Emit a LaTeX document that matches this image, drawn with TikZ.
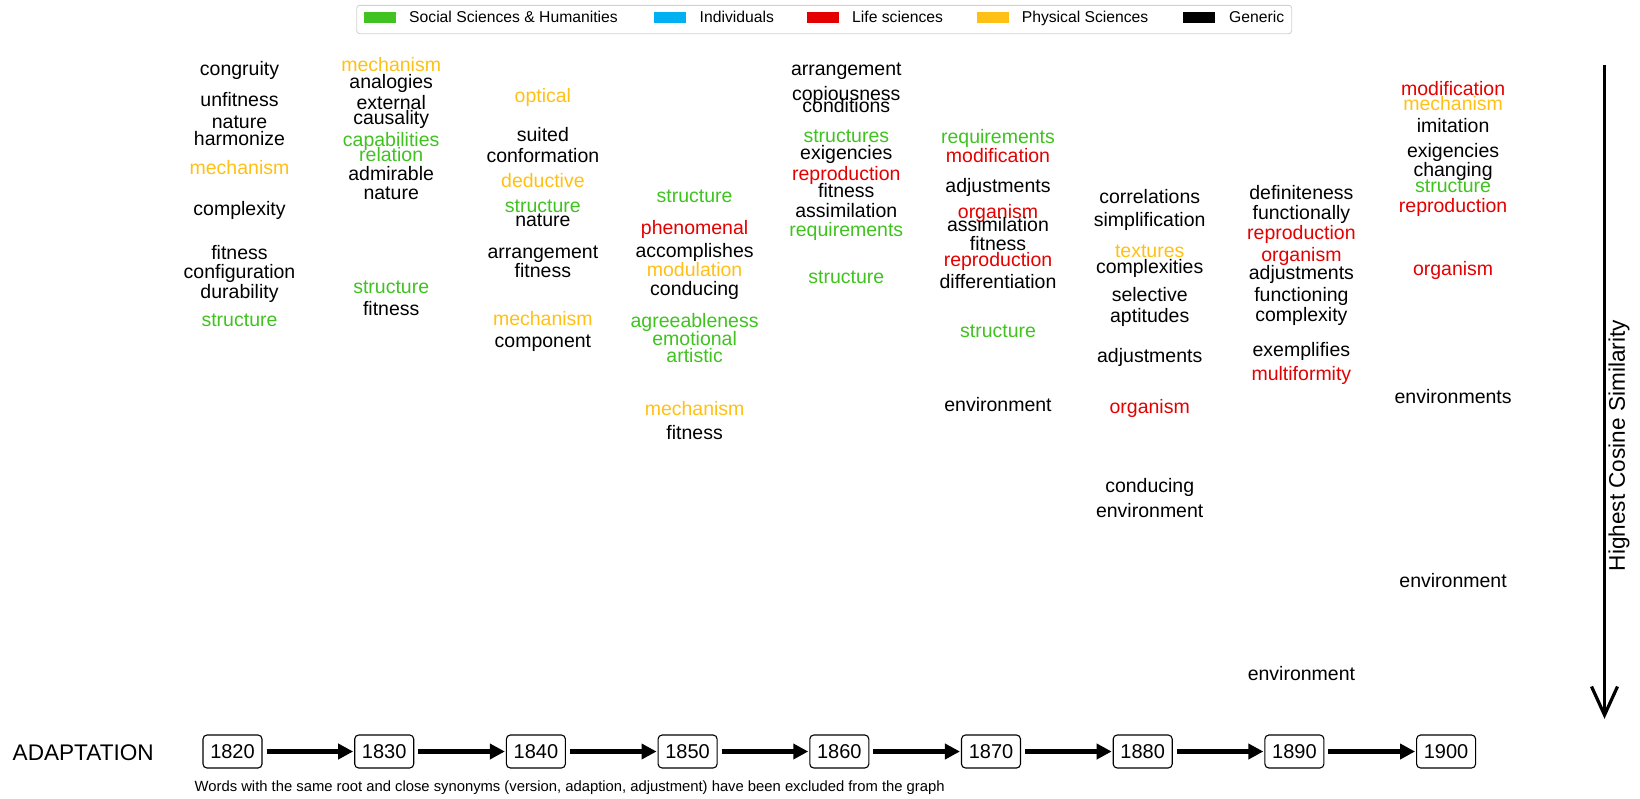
\documentclass[tikz,border=0pt]{standalone}
\usepackage{fontspec}
\setmainfont{Liberation Sans}
\usetikzlibrary{arrows.meta,calc}
\definecolor{ssgreen}{RGB}{64,194,32}
\definecolor{indblue}{RGB}{0,176,240}
\definecolor{lsred}{RGB}{228,0,0}
\definecolor{psorange}{RGB}{255,192,22}
\tikzset{
  word/.style={font=\fontsize{19.5}{20}\selectfont, anchor=base, inner sep=0pt, yshift=-7pt},
  SS/.style={text=ssgreen}, LS/.style={text=lsred}, PS/.style={text=psorange}, GE/.style={text=black},
  yearbox/.style={draw, rounded corners=4pt, line width=1.1pt, minimum width=59pt, minimum height=33pt, inner sep=0pt, font=\fontsize{20}{21}\selectfont},
  tlarrow/.style={line width=5pt, -{Triangle[length=15pt,width=15pt]}, shorten <=4pt, shorten >=1pt},
  swatch/.style={minimum width=32pt, minimum height=10.7pt, inner sep=0pt, anchor=west},
  legtext/.style={font=\fontsize{15.7}{16}\selectfont, anchor=base west, inner sep=0pt}
}
\begin{document}
\begin{tikzpicture}[x=1pt,y=-1pt]
\useasboundingbox (0,0) rectangle (1640,798);
% legend
\draw[gray!35, line width=0.9pt, rounded corners=3pt] (356.7,5.3) rectangle (1291.7,33.7);
\node[swatch, fill=ssgreen] (sw1) at (363.3,17.3) {};
\node[legtext] (lt1) at (409,22) {Social Sciences \& Humanities};
\node[swatch, fill=indblue] (sw2) at (653.5,17.3) {};
\node[legtext] (lt2) at (699.5,22) {Individuals};
\node[swatch, fill=lsred] (sw3) at (806.6,17.3) {};
\node[legtext] (lt3) at (852,22) {Life sciences};
\node[swatch, fill=psorange] (sw4) at (977,17.3) {};
\node[legtext] (lt4) at (1021.6,22) {Physical Sciences};
\node[swatch, fill=black] (sw5) at (1183,17.3) {};
\node[legtext] (lt5) at (1229,22) {Generic};
% word columns
\foreach \w/\y/\c [count=\i] in {congruity/68.3/GE, unfitness/99.3/GE, nature/121/GE, harmonize/138.3/GE, mechanism/167.5/PS, complexity/208.5/GE, fitness/252.3/GE, configuration/271.7/GE, durability/291/GE, structure/319.5/SS}
  \node[word,\c] (wa\i) at (239.5,\y) {\w};
\foreach \w/\y/\c [count=\i] in {mechanism/64/PS, analogies/81.7/GE, external/102.7/GE, causality/117.3/GE, capabilities/139.3/SS, relation/154.3/SS, admirable/173.3/GE, nature/192.7/GE, structure/286/SS, fitness/308.7/GE}
  \node[word,\c] (wb\i) at (391.2,\y) {\w};
\foreach \w/\y/\c [count=\i] in {optical/95/PS, suited/134/GE, conformation/155/GE, deductive/180.7/PS, structure/205/SS, nature/219.3/GE, arrangement/251.7/GE, fitness/270/GE, mechanism/318.3/PS, component/340.7/GE}
  \node[word,\c] (wc\i) at (542.9,\y) {\w};
\foreach \w/\y/\c [count=\i] in {structure/195/SS, phenomenal/227.3/LS, accomplishes/250.7/GE, modulation/269.3/PS, conducing/288.3/GE, agreeableness/320/SS, emotional/338.3/SS, artistic/355/SS, mechanism/408.3/PS, fitness/432.3/GE}
  \node[word,\c] (wd\i) at (694.6,\y) {\w};
\foreach \w/\y/\c [count=\i] in {arrangement/68.3/GE, copiousness/93.3/GE, conditions/105.7/GE, structures/135/SS, exigencies/152.3/GE, reproduction/173.3/LS, fitness/190/GE, assimilation/210/GE, requirements/229.3/SS, structure/276.7/SS}
  \node[word,\c] (we\i) at (846.3,\y) {\w};
\foreach \w/\y/\c [count=\i] in {requirements/136/SS, modification/155.7/LS, adjustments/185/GE, organism/211.7/LS, assimilation/224.3/GE, fitness/243.3/GE, reproduction/259/LS, differentiation/281/GE, structure/330.7/SS, environment/404.3/GE}
  \node[word,\c] (wf\i) at (998,\y) {\w};
\foreach \w/\y/\c [count=\i] in {correlations/196.7/GE, simplification/219.3/GE, textures/250.7/PS, complexities/266.7/GE, selective/294.3/GE, aptitudes/315.7/GE, adjustments/355.7/GE, organism/406.7/LS, conducing/485/GE, environment/510.7/GE}
  \node[word,\c] (wg\i) at (1149.7,\y) {\w};
\foreach \w/\y/\c [count=\i] in {definiteness/192.7/GE, functionally/212.7/GE, reproduction/232.7/LS, organism/254/LS, adjustments/272.7/GE, functioning/294.3/GE, complexity/314/GE, exemplifies/349.3/GE, multiformity/373.3/LS, environment/673.3/GE}
  \node[word,\c] (wh\i) at (1301.4,\y) {\w};
\foreach \w/\y/\c [count=\i] in {modification/88.3/LS, mechanism/103.3/PS, imitation/125.7/GE, exigencies/150.7/GE, changing/169.3/GE, structure/185/SS, reproduction/205.7/LS, organism/268.3/LS, environments/396.7/GE, environment/580/GE}
  \node[word,\c] (wi\i) at (1453.1,\y) {\w};
% vertical similarity arrow
\coordinate (vtop) at (1604.5,65);
\coordinate (vtip) at (1604.5,715);
\coordinate (vwl) at (1591.5,686.5);
\coordinate (vwr) at (1617.5,686.5);
\draw[line width=3.2pt] (vtop) -- ($(vtip)+(0,-2)$);
\draw[line width=3.2pt, line join=miter] (vwl) -- (vtip) -- (vwr);
\node[rotate=90, anchor=center, inner sep=0pt, font=\fontsize{22.6}{24}\selectfont] (simlabel) at (1619,445.7) {Highest Cosine Similarity};
% timeline
\node[anchor=base west, inner sep=0pt, font=\fontsize{22.6}{24}\selectfont] (title) at (12.5,760.7) {ADAPTATION};
\foreach \yr [count=\k from 0] in {1820,1830,1840,1850,1860,1870,1880,1890,1900}
  \node[yearbox] (b\yr) at (232.5+151.7*\k,751.5) {\yr};
\foreach \a/\b in {1820/1830,1830/1840,1840/1850,1850/1860,1860/1870,1870/1880,1880/1890,1890/1900}
  \draw[tlarrow] (b\a) -- (b\b);
\node[anchor=base west, inner sep=0pt, font=\fontsize{14.8}{16}\selectfont] (note) at (194.5,791) {Words with the same root and close synonyms (version, adaption, adjustment) have been excluded from the graph};
\end{tikzpicture}
\end{document}
